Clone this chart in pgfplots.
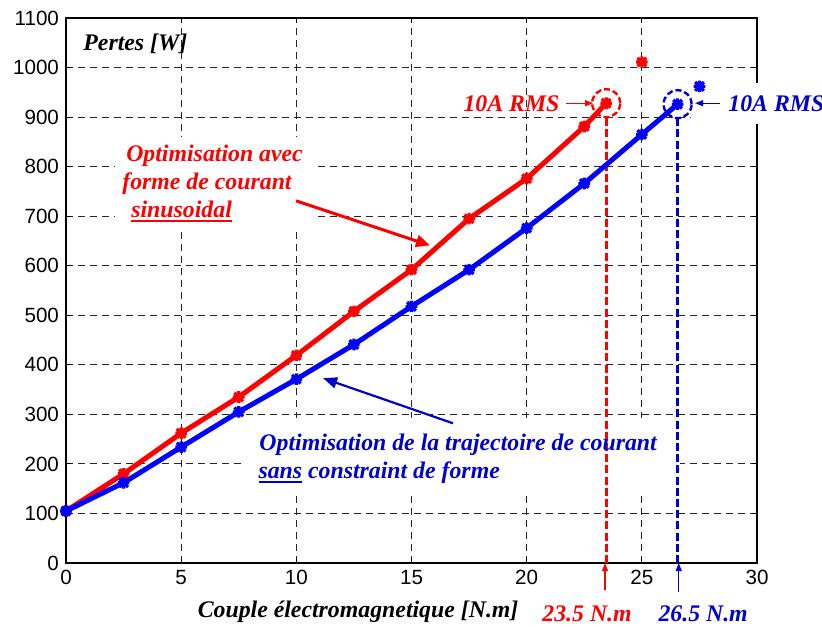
\documentclass[border=0pt]{standalone}
\usepackage{fontspec}
\setmainfont{Liberation Serif}
\newfontfamily\ticksf{Liberation Sans}
\usepackage{pgfplots}
\pgfplotsset{compat=1.18}
\usetikzlibrary{arrows.meta}

\definecolor{dblue}{rgb}{0,0,0.8}
\newcommand\ann{\fontsize{11.9}{13}\selectfont\bfseries\itshape}
\newcommand\ul[2]{\setbox0\hbox{#2}\rlap{\color{#1}\rule[-2.6pt]{\wd0}{1.1pt}}\box0\relax}

% matlab style '*' marker (plus and cross)
\pgfdeclareplotmark{mstar}{%
  \pgfpathmoveto{\pgfqpoint{-\pgfplotmarksize}{0pt}}\pgfpathlineto{\pgfqpoint{\pgfplotmarksize}{0pt}}%
  \pgfpathmoveto{\pgfqpoint{0pt}{-\pgfplotmarksize}}\pgfpathlineto{\pgfqpoint{0pt}{\pgfplotmarksize}}%
  \pgfpathmoveto{\pgfqpoint{-0.75\pgfplotmarksize}{-0.75\pgfplotmarksize}}\pgfpathlineto{\pgfqpoint{0.75\pgfplotmarksize}{0.75\pgfplotmarksize}}%
  \pgfpathmoveto{\pgfqpoint{-0.75\pgfplotmarksize}{0.75\pgfplotmarksize}}\pgfpathlineto{\pgfqpoint{0.75\pgfplotmarksize}{-0.75\pgfplotmarksize}}%
  \pgfusepathqstroke}

\begin{document}
\begin{tikzpicture}
\begin{axis}[
  width=345.5pt, height=272.5pt, scale only axis,
  xmin=0, xmax=30, ymin=0, ymax=1100,
  xtick={0,5,...,30}, ytick={0,100,...,1100},
  grid=major,
  major grid style={black!85, line width=0.5pt, dash pattern=on 3.5pt off 2.5pt},
  axis line style={line width=0.8pt},
  tick align=inside, major tick length=2.5pt,
  tick style={black, line width=0.5pt},
  ticklabel style={font=\ticksf\fontsize{10.3}{12}\selectfont},
  /pgf/number format/assume math mode=true,
  /pgf/number format/set thousands separator={},
  clip=false,
]
% white boxes behind the texts
\fill[white] (axis cs:2.13,671) rectangle (axis cs:10.72,859);
\fill[white] (axis cs:7.68,137) rectangle (axis cs:26.66,292);
\fill[white] (axis cs:27.14,887) rectangle (axis cs:32.82,968);

% limit lines
\draw[red, line width=1.5pt, dash pattern=on 4pt off 1.6pt] (axis cs:23.45,0) -- (axis cs:23.45,900);
\draw[blue!80!black, line width=1.5pt, dash pattern=on 4pt off 1.6pt] (axis cs:26.55,0) -- (axis cs:26.55,898);

% sinusoidal current
\addplot[red, line width=2.5pt, mark=mstar, mark size=2.9pt, mark options={line width=1.6pt}]
  coordinates {(0,105) (2.5,180) (5,262) (7.5,335) (10,419) (12.5,508) (15,592)
               (17.5,695) (20,776) (22.5,881) (23.45,928)};
% trajectory optimisation
\addplot[blue, line width=2.5pt, mark=mstar, mark size=2.9pt, mark options={line width=1.6pt}]
  coordinates {(0,105) (2.5,162) (5,234) (7.5,305) (10,371) (12.5,441) (15,518)
               (17.5,592) (20,676) (22.5,766) (25,865) (26.55,926)};
\addplot[red, only marks, mark=mstar, mark size=2.9pt, mark options={line width=1.6pt}]
  coordinates {(25,1011)};
\addplot[blue, only marks, mark=mstar, mark size=2.9pt, mark options={line width=1.6pt}]
  coordinates {(27.5,962)};

% circles at 10A RMS
\draw[red, line width=1.2pt, dash pattern=on 3pt off 1.5pt] (axis cs:23.45,928) circle[radius=7pt];
\draw[dblue, line width=1.2pt, dash pattern=on 3pt off 1.5pt] (axis cs:26.55,926) circle[radius=7pt];

% annotations
\node[anchor=base west, inner sep=0] at (axis cs:0.74,1034) {\ann Pertes [W]};
\node[anchor=base west, inner sep=0, red] at (axis cs:2.6,810) {\ann Optimisation avec};
\node[anchor=base west, inner sep=0, red] at (axis cs:2.43,754) {\ann forme de courant};
\node[anchor=base west, inner sep=0, red] at (axis cs:2.82,698) {\ann\ul{red}{sinusoidal}};
\draw[red, line width=1.5pt, -{Triangle[length=7pt,width=6pt]}] (axis cs:9.99,731) -- (axis cs:15.8,641);

\node[anchor=base west, inner sep=0, dblue] at (axis cs:8.38,228) {\ann Optimisation de la trajectoire de courant};
\node[anchor=base west, inner sep=0, dblue] at (axis cs:8.34,171) {\ann\ul{dblue}{sans} constraint de forme};
\draw[dblue, line width=1.1pt, -{Triangle[length=7pt,width=5.5pt]}] (axis cs:16.8,282) -- (axis cs:11.16,373);

\node[anchor=base west, inner sep=0, red] at (axis cs:17.24,912) {\ann 10A RMS};
\draw[red, line width=0.6pt, -{Triangle[length=4pt,width=3pt]}] (axis cs:21.71,928) -- (axis cs:22.88,928);
\node[anchor=base west, inner sep=0, dblue] at (axis cs:28.74,912) {\ann 10A RMS};
\draw[dblue, line width=0.6pt, -{Triangle[length=4pt,width=3pt]}] (axis cs:28.39,928) -- (axis cs:27.31,928);

% below the axis
\draw[red, line width=0.6pt, -{Triangle[length=4pt,width=3pt]}] (axis cs:23.4,-55) -- (axis cs:23.4,0);
\draw[dblue, line width=0.6pt, -{Triangle[length=4pt,width=3pt]}] (axis cs:26.6,-58) -- (axis cs:26.6,0);
\node[anchor=base, inner sep=0] at (axis cs:12.68,-109.6) {\ann Couple électromagnetique [N.m]};
\node[anchor=base, inner sep=0, red] at (axis cs:22.62,-117.7) {\ann 23.5 N.m};
\node[anchor=base, inner sep=0, dblue] at (axis cs:27.66,-117.7) {\ann 26.5 N.m};

\coordinate (bl) at (rel axis cs:-0.0955,-0.1156);
\coordinate (tr) at (rel axis cs:1.094,1.033);
\end{axis}
\pgfresetboundingbox
\path (bl) rectangle (tr);
\end{tikzpicture}
\end{document}
